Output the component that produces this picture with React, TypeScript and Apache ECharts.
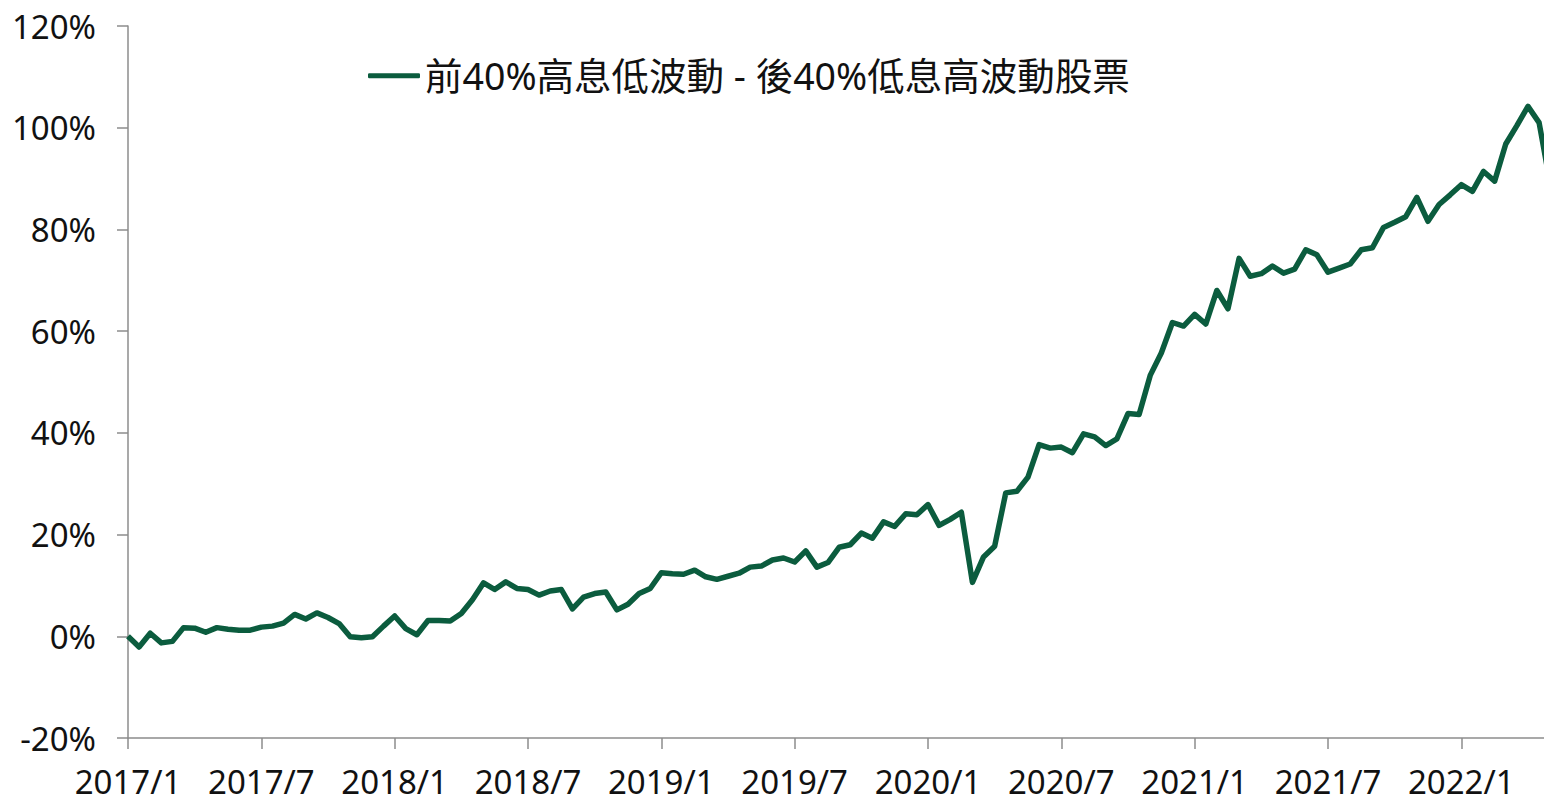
import React, { useEffect, useRef } from "react";
import * as echarts from "echarts";

const seriesName = "前40%高息低波動 - 後40%低息高波動股票";

// semi-monthly observations starting 2017/1
const startYear = 2017;
const yTicks = [-20, 0, 20, 40, 60, 80, 100, 120];

const spreadValues = [
  0, -2.1, 0.6, -1.3, -1.0, 1.7, 1.6, 0.8, 1.7, 1.4, 1.2, 1.2,
  1.8, 2.0, 2.6, 4.3, 3.4, 4.6, 3.7, 2.5, -0.1, -0.3, -0.1, 2.0,
  4.0, 1.5, 0.3, 3.1, 3.1, 3.0, 4.5, 7.2, 10.5, 9.2, 10.7, 9.4,
  9.2, 8.1, 8.9, 9.2, 5.4, 7.7, 8.4, 8.7, 5.2, 6.3, 8.4, 9.4,
  12.5, 12.3, 12.2, 13.0, 11.7, 11.2, 11.8, 12.4, 13.6, 13.8, 15.0, 15.4,
  14.6, 16.8, 13.6, 14.5, 17.5, 18.0, 20.3, 19.3, 22.5, 21.6, 24.1, 23.9,
  25.9, 21.8, 23.0, 24.4, 10.6, 15.6, 17.7, 28.2, 28.5, 31.3, 37.7, 37.0,
  37.2, 36.1, 39.8, 39.2, 37.5, 38.8, 43.8, 43.6, 51.3, 55.7, 61.7, 61.0,
  63.3, 61.4, 68.0, 64.4, 74.3, 70.8, 71.3, 72.8, 71.4, 72.2, 76.0, 75.0,
  71.6, 72.4, 73.2, 76.0, 76.4, 80.4, 81.4, 82.5, 86.3, 81.6, 84.9, 86.8,
  88.8, 87.5, 91.4, 89.5, 96.8, 100.4, 104.2, 101.0, 89.0,
];

const categories: string[] = spreadValues.map((_, i) => {
  const y = startYear + Math.floor(i / 24);
  const m = Math.floor((i % 24) / 2) + 1;
  return i % 2 === 0 ? `${y}/${m}` : `${y}/${m}/16`;
});

export default function App() {
  const ref = useRef<HTMLDivElement>(null);
  useEffect(() => {
    if (!ref.current) return;
    const chart = echarts.init(ref.current, undefined, { renderer: "svg" });
    const fontNum = "'Noto Sans', 'Noto Sans CJK TC', sans-serif";
    chart.setOption({
      animation: false,
      backgroundColor: "#ffffff",
      grid: { left: 128, right: 1.8, top: 26, bottom: 62, containLabel: false },
      legend: {
        left: 363,
        top: 52,
        icon: "roundRect",
        itemWidth: 52,
        itemHeight: 5,
        textStyle: { fontSize: 37.5, color: "#111", fontFamily: fontNum },
        data: [seriesName],
      },
      xAxis: {
        type: "category",
        data: categories,
        boundaryGap: false,
        axisLine: { onZero: false, lineStyle: { color: "#8c8c8c", width: 1.5 } },
        axisTick: {
          show: true,
          length: 11,
          interval: (i: number) => i % 12 === 0,
          lineStyle: { color: "#8c8c8c", width: 1.5 },
        },
        axisLabel: {
          interval: (i: number) => i % 12 === 0,
          fontSize: 33,
          lineHeight: 30,
          color: "#111",
          fontFamily: fontNum,
          margin: 28,
        },
        splitLine: { show: false },
      },
      yAxis: {
        type: "value",
        min: yTicks[0],
        max: yTicks[yTicks.length - 1],
        interval: 20,
        axisLine: { show: true, lineStyle: { color: "#8c8c8c", width: 1.5 } },
        axisTick: { show: true, length: 11, lineStyle: { color: "#8c8c8c", width: 1.5 } },
        axisLabel: {
          formatter: "{value}%",
          fontSize: 33,
          color: "#111",
          fontFamily: fontNum,
          margin: 32,
        },
        splitLine: { show: false },
      },
      series: [
        {
          name: seriesName,
          type: "line",
          data: spreadValues,
          showSymbol: false,
          symbol: "none",
          color: "#0b5c3e",
          lineStyle: { width: 5.5, color: "#0b5c3e", join: "round" },
        },
      ],
    });
    return () => chart.dispose();
  }, []);
  return (
    <div
      style={{
        position: "absolute",
        left: 0,
        top: 0,
        width: 1544,
        height: 800,
        overflow: "hidden",
      }}
    >
      <div ref={ref} style={{ width: 1552, height: 800 }} />
    </div>
  );
}
